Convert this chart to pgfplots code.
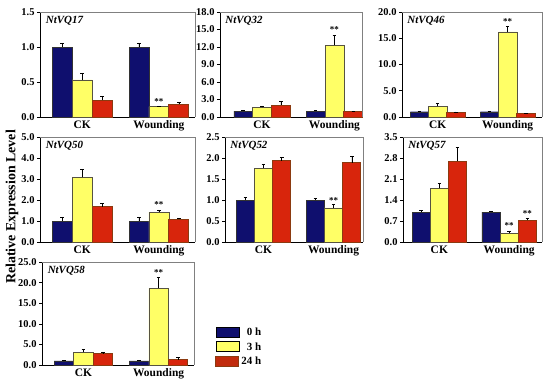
\documentclass[border=0pt]{standalone}
\usepackage{pgfplots}
\pgfplotsset{compat=1.18}
\usepackage{fontspec}
\setmainfont{Liberation Serif}
\definecolor{navy}{HTML}{0F0F6E}
\definecolor{yel}{HTML}{FFFF66}
\definecolor{redf}{HTML}{D8250C}
\definecolor{brownd}{HTML}{8B3A10}
\pgfplotsset{
  panel/.style={
    scale only axis, clip=false,
    axis x line*=bottom, axis y line*=left,
    xmin=-0.55, xmax=1.47, ymin=0,
    xtick={0,1}, xticklabels={CK,Wounding},
    xtick style={draw=none},
    x tick label style={font=\fontsize{11.5}{12}\selectfont\bfseries, yshift=3pt},
    y tick label style={font=\fontsize{10.5}{12}\selectfont\bfseries, xshift=1pt},
    /pgf/number format/.cd, fixed, fixed zerofill, precision=1, assume math mode=true,
    /pgfplots/.cd,
    tick align=outside, major tick length=3pt,
    ytick style={line width=0.6pt, black},
    axis line style={line width=0.8pt, black},
  },
  b0/.style={ybar, bar width=0.26, bar shift=0pt, fill=navy, draw=black!80, line width=0.5pt,
    error bars/y dir=plus, error bars/y explicit, error bars/error bar style={black, line width=0.5pt},
    error bars/error mark options={rotate=90, mark size=1.8pt, black, line width=0.5pt}},
  b3/.style={b0, fill=yel, draw=black!60!yellow!60!black},
  b24/.style={b0, fill=redf, draw=brownd, line width=1pt},
  stars/.style={draw=none, mark=none, forget plot, nodes near coords={**},
    every node near coord/.append style={anchor=south, font=\fontsize{9}{10}\selectfont\bfseries, inner sep=1pt}},
}
\newcommand{\frameTR}{\draw[gray, line width=0.6pt] (rel axis cs:0,1) -- (rel axis cs:1,1) -- (rel axis cs:1,0);}
\newcommand{\ttl}[1]{\node[anchor=north west, font=\fontsize{11}{12}\selectfont\bfseries\itshape, inner sep=1pt] at (rel axis cs:0.03,0.97) {#1};}
\begin{document}
\begin{tikzpicture}
\path[use as bounding box] (0bp,0bp) rectangle (550bp,-387bp);
\node[rotate=90, font=\fontsize{14}{15}\selectfont\bfseries] at (12bp,-207bp) {Relative Expression Level};

% NtVQ17
\begin{axis}[panel, at={(40bp,-12bp)}, anchor=north west, width=155bp, height=105bp, ymax=1.5, ytick distance=0.5]
\addplot[b0] coordinates {(-0.26,1.0) +- (0,0.06) (0.74,1.0) +- (0,0.06)};
\addplot[b3] coordinates {(0,0.53) +- (0,0.1) (1,0.147) +- (0,0.01)};
\addplot[b24] coordinates {(0.26,0.24) +- (0,0.05) (1.26,0.185) +- (0,0.02)};
\addplot[stars] coordinates {(1,0.16)};
\frameTR \ttl{NtVQ17}
\end{axis}

% NtVQ32
\begin{axis}[panel, at={(220bp,-12bp)}, anchor=north west, width=142bp, height=105bp, ymax=18, ytick distance=3, xmin=-0.58, xmax=1.38]
\addplot[b0] coordinates {(-0.26,1.0) +- (0,0.15) (0.74,1.0) +- (0,0.15)};
\addplot[b3] coordinates {(0,1.65) +- (0,0.25) (1,12.3) +- (0,1.7)};
\addplot[b24] coordinates {(0.26,2.05) +- (0,0.6) (1.26,0.9) +- (0,0.15)};
\addplot[stars] coordinates {(1,14.2)};
\frameTR \ttl{NtVQ32}
\end{axis}

% NtVQ46
\begin{axis}[panel, at={(402bp,-12bp)}, anchor=north west, width=140bp, height=105bp, ymax=20, ytick distance=5, xmin=-0.51, xmax=1.49]
\addplot[b0] coordinates {(-0.26,1.0) +- (0,0.1) (0.74,1.0) +- (0,0.1)};
\addplot[b3] coordinates {(0,2.0) +- (0,0.55) (1,16.2) +- (0,1.0)};
\addplot[b24] coordinates {(0.26,0.85) +- (0,0.15) (1.26,0.6) +- (0,0.1)};
\addplot[stars] coordinates {(1,17.4)};
\frameTR \ttl{NtVQ46}
\end{axis}

% NtVQ50
\begin{axis}[panel, at={(40bp,-137bp)}, anchor=north west, width=155bp, height=105bp, ymax=5, ytick distance=1]
\addplot[b0] coordinates {(-0.26,1.0) +- (0,0.2) (0.74,1.0) +- (0,0.2)};
\addplot[b3] coordinates {(0,3.08) +- (0,0.38) (1,1.42) +- (0,0.11)};
\addplot[b24] coordinates {(0.26,1.69) +- (0,0.16) (1.26,1.09) +- (0,0.05)};
\addplot[stars] coordinates {(1,1.58)};
\frameTR \ttl{NtVQ50}
\end{axis}

% NtVQ52
\begin{axis}[panel, at={(225bp,-137bp)}, anchor=north west, width=138bp, height=105bp, ymax=2.5, ytick distance=0.5, xmin=-0.55, xmax=1.42]
\addplot[b0] coordinates {(-0.26,1.0) +- (0,0.06) (0.74,1.0) +- (0,0.04)};
\addplot[b3] coordinates {(0,1.76) +- (0,0.09) (1,0.81) +- (0,0.08)};
\addplot[b24] coordinates {(0.26,1.93) +- (0,0.09) (1.26,1.89) +- (0,0.14)};
\addplot[stars] coordinates {(1,0.9)};
\frameTR \ttl{NtVQ52}
\end{axis}

% NtVQ57
\begin{axis}[panel, at={(403bp,-137bp)}, anchor=north west, width=139bp, height=105bp, ymax=3.5, ytick={0,0.7,1.4,2.1,2.8,3.5}, xmin=-0.52, xmax=1.47]
\addplot[b0] coordinates {(-0.26,1.0) +- (0,0.05) (0.74,1.0) +- (0,0.03)};
\addplot[b3] coordinates {(0,1.79) +- (0,0.16) (1,0.3) +- (0,0.07)};
\addplot[b24] coordinates {(0.26,2.7) +- (0,0.46) (1.26,0.72) +- (0,0.06)};
\addplot[stars] coordinates {(1,0.4) (1.26,0.81)};
\frameTR \ttl{NtVQ57}
\end{axis}

% NtVQ58
\begin{axis}[panel, at={(42bp,-262bp)}, anchor=north west, width=152bp, height=103bp, ymax=25, ytick distance=5,
  legend style={at={(1.12,0.40)}, anchor=north west, draw=none, fill=none,
    font=\fontsize{11}{12}\selectfont\bfseries, cells={anchor=east}, row sep=1.5pt}]
\addplot[b0, forget plot] coordinates {(-0.26,1.0) +- (0,0.1) (0.74,1.0) +- (0,0.1)};
\addplot[b3, forget plot] coordinates {(0,3.05) +- (0,0.75) (1,18.6) +- (0,2.6)};
\addplot[b24, forget plot] coordinates {(0.26,2.75) +- (0,0.45) (1.26,1.3) +- (0,0.6)};
\addplot[stars] coordinates {(1,21.4)};
\addlegendimage{legend image code/.code={\draw[fill=navy, draw=black] (0bp,-4.5bp) rectangle (23bp,5.5bp);}}
\addlegendentry{0 h}
\addlegendimage{legend image code/.code={\draw[fill=yel, draw=black] (0bp,-4.5bp) rectangle (23bp,5.5bp);}}
\addlegendentry{3 h}
\addlegendimage{legend image code/.code={\draw[fill=redf!70!brownd, draw=brownd, line width=1pt] (0bp,-4.5bp) rectangle (23bp,5.5bp);}}
\addlegendentry{24 h}
\frameTR \ttl{NtVQ58}
\end{axis}
\end{tikzpicture}
\end{document}
